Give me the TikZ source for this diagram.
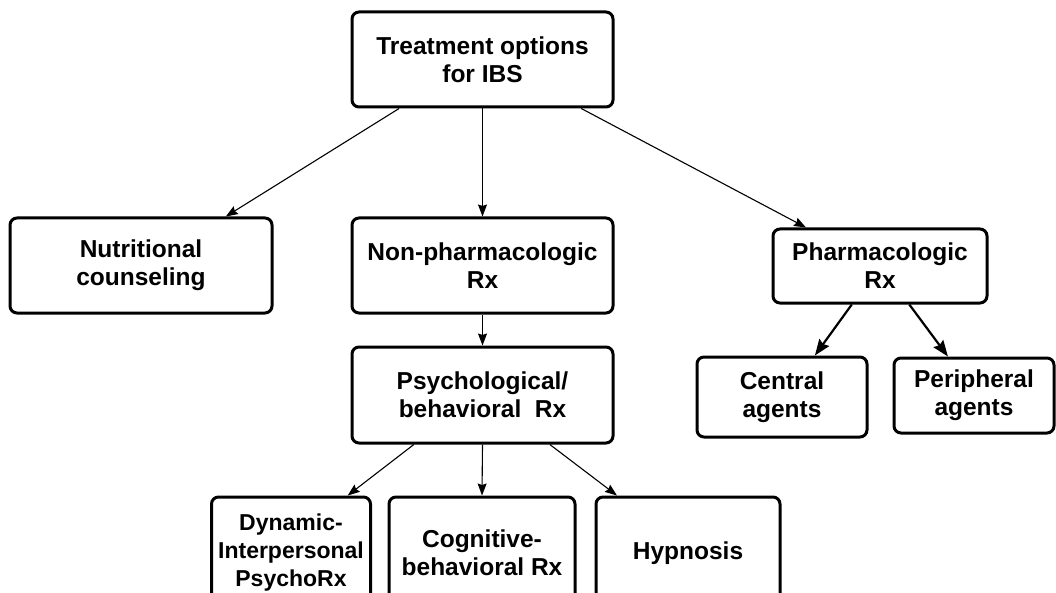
\documentclass[tikz,border=0pt]{standalone}
\usepackage{fontspec}
\setmainfont{Liberation Sans}
\usetikzlibrary{arrows.meta,calc}
\begin{document}
\begin{tikzpicture}[x=1pt,y=-1pt,
  box/.style={draw,line width=3pt,rounded corners=7pt,align=center,inner sep=0pt,
    font=\fontsize{24.5}{28}\selectfont\bfseries},
  thin/.style={line width=1.1pt,-{Stealth[length=12pt,width=9pt,inset=1.5pt]}},
  thick/.style={line width=2.2pt,-{Stealth[length=16pt,width=12pt,inset=2pt]}}]
\useasboundingbox (0,0) rectangle (1056,593);
\clip (0,0) rectangle (1056,593);
\node[box,minimum width=261pt,minimum height=95pt] (top) at (482.5,59.5) {Treatment options\\for IBS};
\node[box,minimum width=262pt,minimum height=95pt] (nut) at (141,265.5) {Nutritional\\counseling};
\node[box,minimum width=261pt,minimum height=95pt] (non) at (482.5,265.5) {Non-pharmacologic\\Rx};
\node[box,minimum width=261pt,minimum height=96pt] (psy) at (482.5,395) {Psychological/\\behavioral\ \ Rx};
\node[box,minimum width=214pt,minimum height=74pt] (pha) at (880,266) {Pharmacologic\\Rx};
\node[box,minimum width=170pt,minimum height=80pt] (cen) at (782,397) {Central\\agents};
\node[box,minimum width=160pt,minimum height=75pt] (per) at (974,395.5) {Peripheral\\agents};
\node[box,minimum width=159pt,minimum height=112pt,font=\fontsize{23}{28}\selectfont\bfseries] (dyn) at (291,553) {Dynamic-\\Interpersonal\\PsychoRx};
\node[box,minimum width=186pt,minimum height=112pt] (cog) at (482,553) {Cognitive-\\behavioral Rx};
\node[box,minimum width=184pt,minimum height=112pt] (hyp) at (688,553) {Hypnosis};
\draw[thin] ($(top.south west)!0.184!(top.south east)$) -- ($(nut.north west)!0.82!(nut.north east)$);
\draw[thin] (top.south) -- (non.north);
\draw[thin] ($(top.south west)!0.874!(top.south east)$) -- ($(pha.north west)!0.159!(pha.north east)$);
\draw[thin] (non.south) -- (psy.north);
\draw[thin] ($(psy.south west)!0.24!(psy.south east)$) -- ($(dyn.north west)!0.85!(dyn.north east)$);
\draw[thin] (psy.south) -- (cog.north);
\draw[thin] ($(psy.south west)!0.755!(psy.south east)$) -- ($(hyp.north west)!0.12!(hyp.north east)$);
\draw[thick] ($(pha.south west)!0.37!(pha.south east)$) -- ($(cen.north west)!0.69!(cen.north east)$);
\draw[thick] ($(pha.south west)!0.635!(pha.south east)$) -- ($(per.north west)!0.34!(per.north east)$);
\end{tikzpicture}
\end{document}
